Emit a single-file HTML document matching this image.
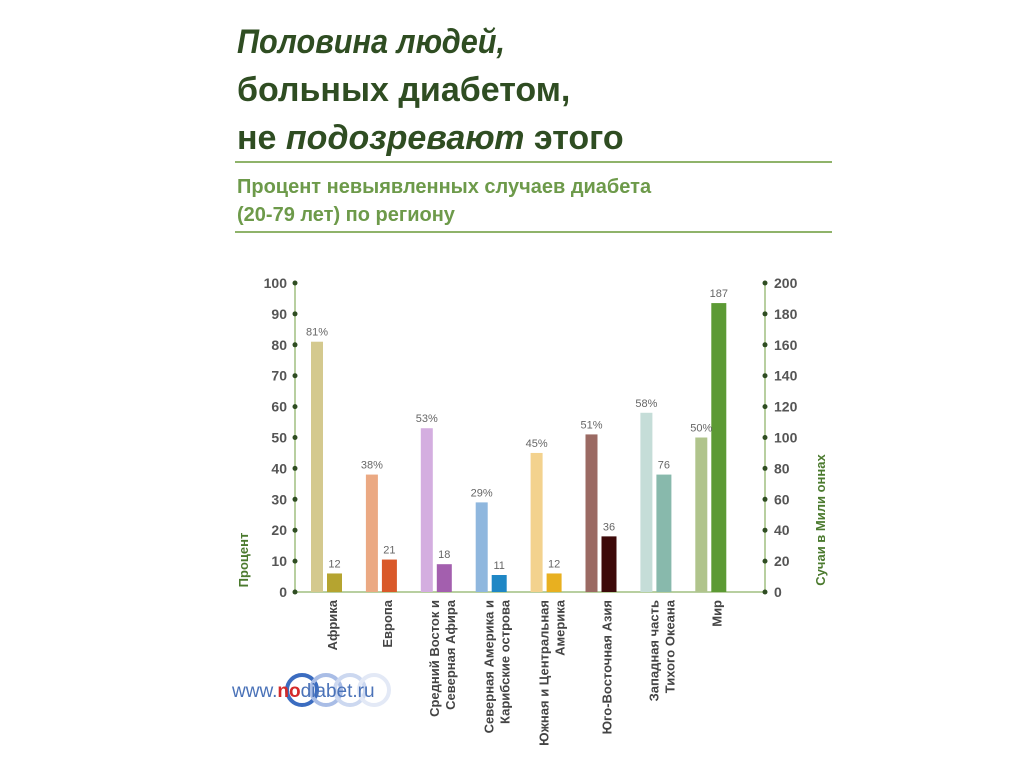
<!DOCTYPE html>
<html><head><meta charset="utf-8"><style>
html,body{margin:0;padding:0;background:#fff;width:1024px;height:767px;overflow:hidden}
svg{display:block}
</style></head><body>
<svg id="c" width="1024" height="767" xmlns="http://www.w3.org/2000/svg" font-family="'Liberation Sans','Noto Sans CJK SC',sans-serif">
<g fill="#2f4d22" font-size="34" font-weight="bold">
<text x="237" y="53" font-style="italic" textLength="268" lengthAdjust="spacingAndGlyphs">Половина людей,</text>
<text x="237" y="101">больных диабетом,</text>
<text x="237" y="149">не <tspan font-style="italic">подозревают</tspan> этого</text>
</g>
<line x1="235" y1="162" x2="832" y2="162" stroke="#8fb36a" stroke-width="2"/>
<g fill="#6d9a4a" font-size="20" font-weight="bold">
<text x="237" y="193">Процент невыявленных случаев диабета</text>
<text x="237" y="221">(20-79 лет) по региону</text>
</g>
<line x1="235" y1="232" x2="832" y2="232" stroke="#8fb36a" stroke-width="2"/>
<g id="plot"></g>
<g>
<circle cx="302" cy="690" r="15" fill="none" stroke="#3b6cc0" stroke-width="4"/>
<circle cx="326" cy="690" r="15" fill="none" stroke="#a9bde6" stroke-width="4"/>
<circle cx="350" cy="690" r="15" fill="none" stroke="#ccd8f0" stroke-width="4"/>
<circle cx="374" cy="690" r="15" fill="none" stroke="#e3e9f6" stroke-width="4"/>
<text x="232" y="697" font-size="19" fill="#4a72b8">www.<tspan fill="#d42a2a" font-weight="bold">no</tspan>diabet.ru</text>
</g>
</svg>
<script>
const categories=[["Африка"],["Европа"],["Средний Восток и","Северная Афира"],["Северная Америка и","Карибские острова"],["Южная и Центральная","Америка"],["Юго-Восточная Азия"],["Западная часть","Тихого Океана"],["Мир"]];
const percentValues=[81,38,53,29,45,51,58,50];
const countValues=[12,21,18,11,12,36,76,187];
const leftTicks=[0,10,20,30,40,50,60,70,80,90,100];
const rightTicks=[0,20,40,60,80,100,120,140,160,180,200];
const pctColors=["#d4c98e","#eba983","#d4aee0","#8fb7de","#f3d28e","#9b6a63","#c5ddd8","#b0c48c"];
const cntColors=["#b5a430","#d9592a","#a35fae","#1f87c5","#e8b020","#3d0a0a","#88b9ac","#5c9a34"];
const NS="http://www.w3.org/2000/svg";
const g=document.getElementById('plot');
const X0=295,X1=765,Y0=592,Y1=283;
const yL=v=>Y0-(v/100)*(Y0-Y1);
const yR=v=>Y0-(v/200)*(Y0-Y1);
const xG=i=>311+i*54.9;
function mk(t,a,p){const e=document.createElementNS(NS,t);for(const k in a)e.setAttribute(k,a[k]);(p||g).appendChild(e);return e;}
let e;
e=mk('line',{x1:X0,y1:Y0,x2:X1,y2:Y0,stroke:'#b8cfa0','stroke-width':2});


e=mk('line',{x1:X0,y1:Y0,x2:X0,y2:Y1,stroke:'#b8cfa0','stroke-width':2});


e=mk('line',{x1:X1,y1:Y0,x2:X1,y2:Y1,stroke:'#b8cfa0','stroke-width':2});


leftTicks.forEach(v=>{
 e=mk('circle',{cx:X0,cy:yL(v),r:2.5,fill:'#2f4d22'});
 
 
 e=mk('text',{x:X0-8,y:yL(v)+5,'text-anchor':'end','font-size':14,'font-weight':'bold',fill:'#555'});e.textContent=v;
 
 
});
rightTicks.forEach(v=>{
 e=mk('circle',{cx:X1,cy:yR(v),r:2.5,fill:'#2f4d22'});
 
 
 e=mk('text',{x:X1+9,y:yR(v)+5,'font-size':14,'font-weight':'bold',fill:'#555'});e.textContent=v;
 
 
});
e=mk('text',{x:0,y:0,transform:'translate(248,560) rotate(-90)','text-anchor':'middle','font-size':13,'font-weight':'bold',fill:'#4b7a2e'});e.textContent='Процент';


e=mk('text',{x:0,y:0,transform:'translate(825,520) rotate(-90)','text-anchor':'middle','font-size':13,'font-weight':'bold',fill:'#4b7a2e'});e.textContent='Сучаи в Мили оннах';


categories.forEach((c,i)=>{
 const x=xG(i);
 const pv=percentValues[i],cv=countValues[i];
 e=mk('rect',{x:x,y:yL(pv),width:12,height:Y0-yL(pv),fill:pctColors[i]});
 
 
 e=mk('rect',{x:x+16,y:yR(cv),width:15,height:Y0-yR(cv),fill:cntColors[i]});
 
 
 e=mk('text',{x:x+6,y:yL(pv)-6,'text-anchor':'middle','font-size':11,fill:'#666'});e.textContent=pv+'%';
 
 
 e=mk('text',{x:x+23.5,y:yR(cv)-6,'text-anchor':'middle','font-size':11,fill:'#666'});e.textContent=cv;
 
 
 const cx=x+22, n=c.length;
 c.forEach((line,j)=>{
  const lx=cx-(n-1)*8+j*16+4;
  e=mk('text',{x:0,y:0,transform:`translate(${lx},600) rotate(-90)`,'text-anchor':'end','font-size':13,'font-weight':'bold',fill:'#444'});e.textContent=line;
  
  
 });
});
</script>
</body></html>
